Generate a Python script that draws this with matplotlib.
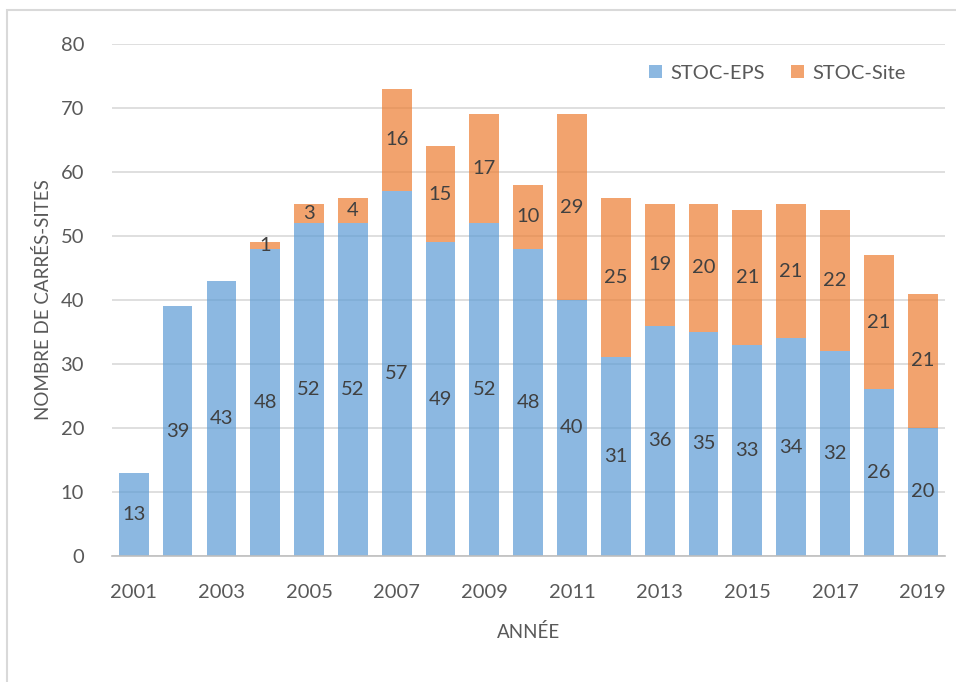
import numpy as np
import matplotlib.pyplot as plt
from matplotlib.patches import Rectangle

# ----------------------------
# Données
# ----------------------------
annees = list(range(2001, 2020))
stoc_eps = [13, 39, 43, 48, 52, 52, 57, 49, 52, 48, 40, 31, 36, 35, 33, 34, 32, 26, 20]
stoc_site = [0, 0, 0, 1, 3, 4, 16, 15, 17, 10, 29, 25, 19, 20, 21, 21, 22, 21, 21]

C_EPS = "#5B9BD5"
C_SITE = "#ED7D31"
TXT = "#595959"

plt.rcParams['font.family'] = ['Lato', 'DejaVu Sans']

fig = plt.figure(figsize=(9.56, 6.82), dpi=100)
ax = fig.add_axes([0.117, 0.185, 0.871, 0.7505])

x = np.arange(len(annees))
eps = np.array(stoc_eps)
site = np.array(stoc_site)

ax.set_axisbelow(True)
ax.grid(axis="y", color="#D9D9D9", linewidth=1.2)
ax.bar(x, eps, width=0.68, color=C_EPS, alpha=0.7, label="STOC-EPS")
ax.bar(x, site, width=0.68, bottom=eps, color=C_SITE, alpha=0.7, label="STOC-Site")

# Étiquettes au centre des segments
for xi, v in zip(x, eps):
    ax.text(xi, v / 2, str(v), ha="center", va="center", fontsize=14.5, color="#404040")
for xi, v, b in zip(x, site, eps):
    if v > 0:
        ax.text(xi, b + v / 2, str(v), ha="center", va="center", fontsize=14.5, color="#404040")

ax.set_xlim(-0.5, len(annees) - 0.5)
ax.set_ylim(0, 80)
ax.set_yticks(range(0, 81, 10))
ax.set_xticks(x[::2])
ax.set_xticklabels([str(a) for a in annees[::2]])
ax.tick_params(axis="both", length=0, labelsize=14.5, colors=TXT)
ax.tick_params(axis="x", pad=20)
ax.tick_params(axis="y", pad=20)

for s in ["top", "right", "left"]:
    ax.spines[s].set_visible(False)
ax.spines["bottom"].set_color("#BFBFBF")
ax.spines["bottom"].set_linewidth(1.2)

ax.set_xlabel("ANNÉE", fontsize=13.5, color=TXT, labelpad=16)
ax.set_ylabel("NOMBRE DE CARRÉS-SITES", fontsize=13.5, color=TXT, labelpad=6)

leg = ax.legend(loc="upper right", bbox_to_anchor=(0.975, 0.995), ncol=2, frameon=False,
                fontsize=14.5, handlelength=0.65, handleheight=0.65, columnspacing=1.3,
                handletextpad=0.4)
for t in leg.get_texts():
    t.set_color(TXT)

# Cadre du graphique
fig.patches.append(Rectangle((0.0078, -0.05), 1.1, 1.035, transform=fig.transFigure,
                             fill=False, edgecolor="#D9D9D9", linewidth=1.5))

fig.savefig("out.png", dpi=100)
